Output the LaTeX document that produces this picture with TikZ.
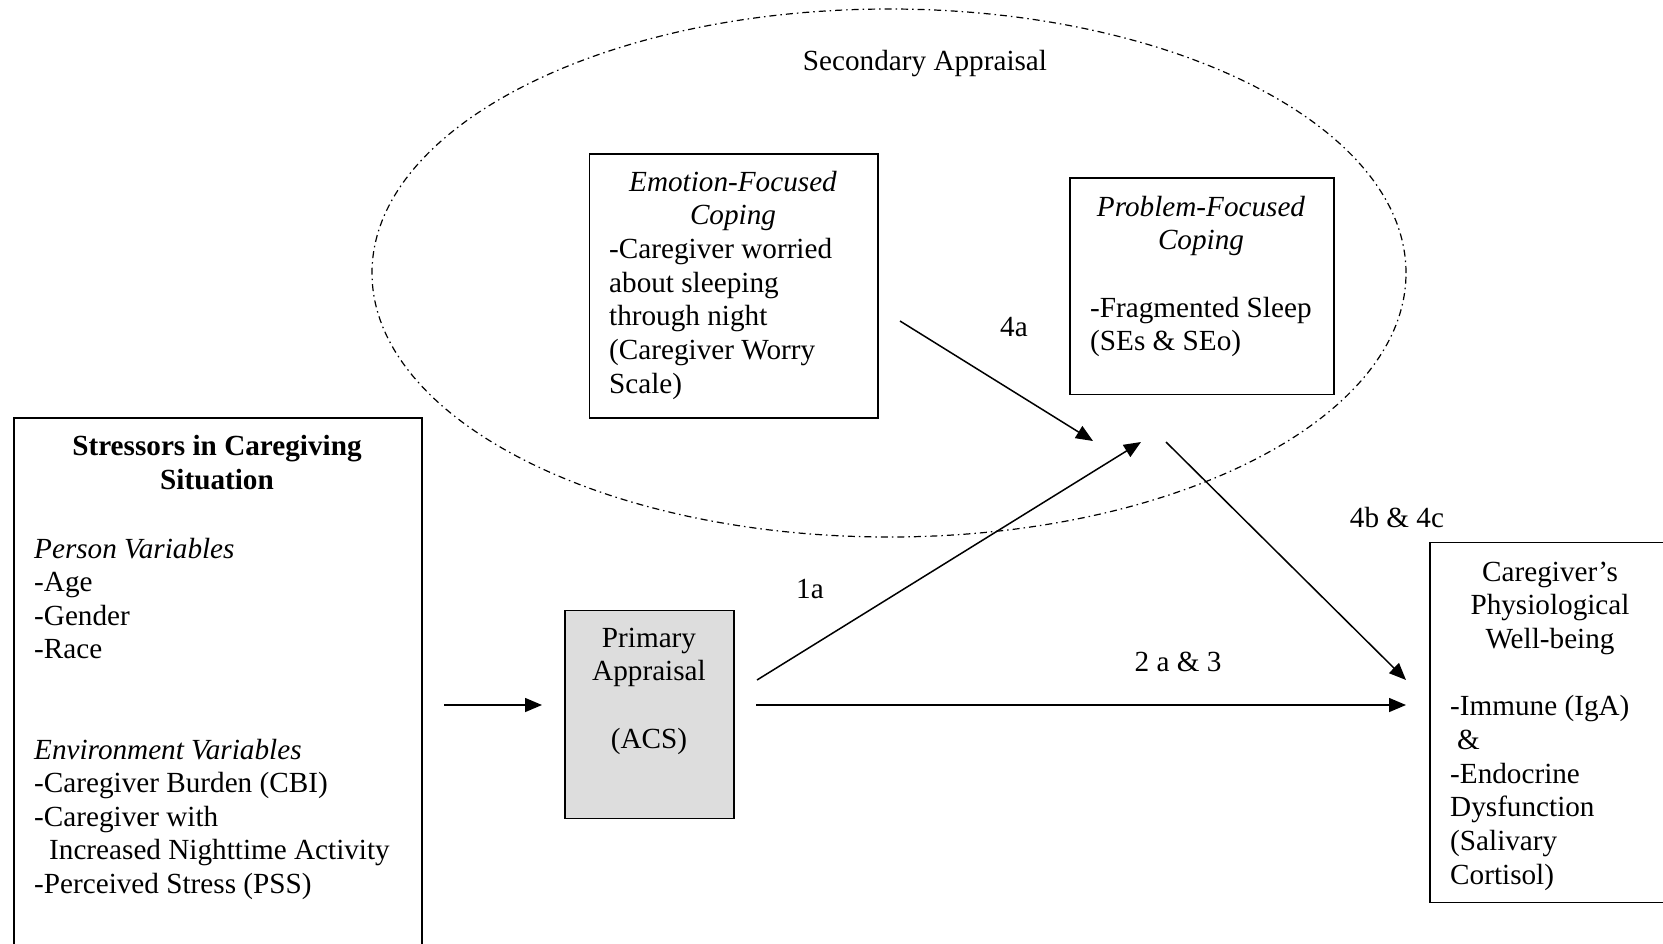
\documentclass[tikz,border=0pt]{standalone}
\usepackage{fontspec}
\setmainfont{Liberation Serif}
\usetikzlibrary{arrows.meta,shapes.geometric}
\definecolor{boxgray}{RGB}{221,221,221}
\begin{document}
\begin{tikzpicture}[x=1pt,y=-1pt,
  txt/.style={font=\fontsize{29.2pt}{33.7pt}\selectfont, inner sep=0pt},
  lt/.style={txt, anchor=base west},
  ct/.style={txt, anchor=base},
  box/.style={draw, line width=1.8pt, anchor=north west, inner sep=0pt},
  arr/.style={line width=1.5pt, -{Triangle[length=17pt,width=14pt]}},
  secell/.style={draw, ellipse, line width=1.2pt, dash pattern=on 7pt off 4pt on 1.5pt off 4pt, inner sep=0pt}
]
\useasboundingbox (0,0) rectangle (1663,943);
\fill[white] (0,0) rectangle (1663,943);

% secondary appraisal ellipse
\node[secell, minimum width=1034pt, minimum height=528pt] (secapp) at (889,273) {};
\node[ct] (sectxt) at (925,70) {Secondary Appraisal};

% stressors box
\node[box, minimum width=408pt, minimum height=560pt] (stress) at (13,417) {};
\node[ct] (st1) at (217,455) {\bfseries Stressors in Caregiving};
\node[ct] (st2) at (217,489) {\bfseries Situation};
\node[lt] (st3) at (34,558) {\itshape Person Variables};
\node[lt] (st4) at (34,591.5) {-Age};
\node[lt] (st5) at (34,625) {-Gender};
\node[lt] (st6) at (34,658.5) {-Race};
\node[lt] (st7) at (34,759) {\itshape Environment Variables};
\node[lt] (st8) at (34,792.5) {-Caregiver Burden (CBI)};
\node[lt] (st9) at (34,826) {-Caregiver with};
\node[lt] (st10) at (49,859.5) {Increased Nighttime Activity};
\node[lt] (st11) at (34,893) {-Perceived Stress (PSS)};

% emotion-focused coping box
\node[box, minimum width=288.4pt, minimum height=264pt] (emo) at (588.6,152.7) {};
\node[ct] (em1) at (733,191) {\itshape Emotion-Focused};
\node[ct] (em2) at (733,224.7) {\itshape Coping};
\node[lt] (em3) at (609,258.4) {-Caregiver worried};
\node[lt] (em4) at (609,292) {about sleeping};
\node[lt] (em5) at (609,325.8) {through night};
\node[lt] (em6) at (609,359.5) {(Caregiver Worry};
\node[lt] (em7) at (609,393.2) {Scale)};

% problem-focused coping box
\node[box, minimum width=264pt, minimum height=216.5pt] (prob) at (1069,177) {};
\node[ct] (pr1) at (1201,216) {\itshape Problem-Focused};
\node[ct] (pr2) at (1201,249.7) {\itshape Coping};
\node[lt] (pr3) at (1090,317) {-Fragmented Sleep};
\node[lt] (pr4) at (1090,350.8) {(SEs \& SEo)};

% primary appraisal box
\node[box, fill=boxgray, minimum width=169pt, minimum height=208pt] (prim) at (564,609.5) {};
\node[ct] (pa1) at (649,647) {Primary};
\node[ct] (pa2) at (649,680.7) {Appraisal};
\node[ct] (pa3) at (649,748) {(ACS)};

% caregiver's physiological well-being box
\node[box, minimum width=261pt, minimum height=360pt] (care) at (1429,541.5) {};
\node[ct] (cg1) at (1550,581) {Caregiver’s};
\node[ct] (cg2) at (1550,614.7) {Physiological};
\node[ct] (cg3) at (1550,648.4) {Well-being};
\node[lt] (cg4) at (1450,715.8) {-Immune (IgA)};
\node[lt] (cg5) at (1457,749.5) {\&};
\node[lt] (cg6) at (1450,783.2) {-Endocrine};
\node[lt] (cg7) at (1450,816.9) {Dysfunction};
\node[lt] (cg8) at (1450,850.6) {(Salivary};
\node[lt] (cg9) at (1450,884.3) {Cortisol)};

% path labels
\node[ct] (l4a) at (1014,336) {4a};
\node[ct] (l4b) at (1397,527) {4b \& 4c};
\node[ct] (l1a) at (810,598) {1a};
\node[ct] (l2a) at (1178,671) {2 a \& 3};

% connector end points
\coordinate (a0s) at (444,705);
\coordinate (a0e) at (542,705);
\coordinate (a1s) at (757,680);
\coordinate (a1e) at (1141,442);
\coordinate (a2s) at (756,705);
\coordinate (a2e) at (1406,705);
\coordinate (a4s) at (900,321);
\coordinate (a4e) at (1093,441);
\coordinate (a5s) at (1166,442);
\coordinate (a5e) at (1406,680);

\draw[arr] (a0s) -- (a0e);
\draw[arr] (a1s) -- (a1e);
\draw[arr] (a2s) -- (a2e);
\draw[arr] (a4s) -- (a4e);
\draw[arr] (a5s) -- (a5e);
\end{tikzpicture}
\end{document}
